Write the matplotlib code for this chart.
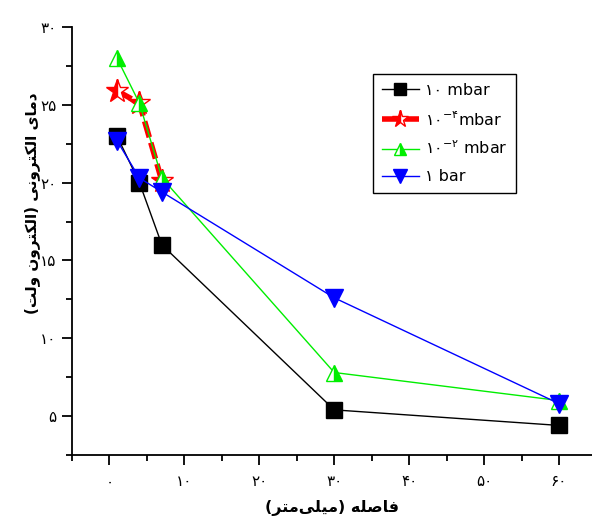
import matplotlib
matplotlib.use("Agg")
import matplotlib.pyplot as plt
from matplotlib.ticker import MultipleLocator, FixedLocator

# ---------------- data ----------------
x_black = [1, 4, 7, 30, 60]
y_black = [23.0, 20.0, 16.0, 5.4, 4.4]

x_red = [1, 4, 7]
y_red = [25.9, 25.1, 20.1]

x_green = [1, 4, 7, 30, 60]
y_green = [28.0, 25.1, 20.3, 7.8, 6.0]

x_blue = [1, 4, 7, 30, 60]
y_blue = [22.7, 20.3, 19.4, 12.6, 5.8]

labels = ['۱۰ mbar', '۱۰$^{-۴}$mbar', '۱۰$^{-۲}$ mbar', '۱ bar']

xticks = [0, 10, 20, 30, 40, 50, 60]
xticklabels = ['۰', '۱۰', '۲۰', '۳۰', '۴۰', '۵۰', '۶۰']
yticks = [5, 10, 15, 20, 25, 30]
yticklabels = ['۵', '۱۰', '۱۵', '۲۰', '۲۵', '۳۰']

xlabel_txt = 'فاصله (میلی\u200cمتر)'
ylabel_txt = 'دمای الکترونی (الکترون ولت)'

# ------------- simple Persian shaping -------------
FORMS = {
    'ا': ('\uFE8D', '\uFE8E', None, None),
    'د': ('\uFEA9', '\uFEAA', None, None),
    'ر': ('\uFEAD', '\uFEAE', None, None),
    'و': ('\uFEED', '\uFEEE', None, None),
    'م': ('\uFEE1', '\uFEE2', '\uFEE3', '\uFEE4'),
    'ل': ('\uFEDD', '\uFEDE', '\uFEDF', '\uFEE0'),
    'ت': ('\uFE95', '\uFE96', '\uFE97', '\uFE98'),
    'ن': ('\uFEE5', '\uFEE6', '\uFEE7', '\uFEE8'),
    'ف': ('\uFED1', '\uFED2', '\uFED3', '\uFED4'),
    'ص': ('\uFEB9', '\uFEBA', '\uFEBB', '\uFEBC'),
    'ه': ('\uFEE9', '\uFEEA', '\uFEEB', '\uFEEC'),
    'ی': ('\uFBFC', '\uFBFD', '\uFBFE', '\uFBFF'),
    'ک': ('\uFB8E', '\uFB8F', '\uFB90', '\uFB91'),
}


def shape(s):
    out = []
    n = len(s)
    for i, c in enumerate(s):
        if c == '\u200c':
            continue
        if c not in FORMS:
            out.append(c)
            continue
        prev = s[i - 1] if i > 0 else None
        nxt = s[i + 1] if i < n - 1 else None
        jp = prev in FORMS and FORMS[prev][2] is not None
        jn = nxt in FORMS and FORMS[c][2] is not None
        iso, fin, ini, med = FORMS[c]
        if jp and jn:
            out.append(med)
        elif jp:
            out.append(fin)
        elif jn:
            out.append(ini)
        else:
            out.append(iso)
    vis = ''.join(reversed(out))
    return vis.translate(str.maketrans('()', ')('))


plt.rcParams['font.family'] = ['DejaVu Sans']
plt.rcParams['mathtext.fontset'] = 'dejavusans'

fig = plt.figure(figsize=(5.92, 5.19), dpi=100)
ax = fig.add_axes([72 / 592, 1 - 455 / 519, 1 - 72 / 592, (455 - 27) / 519])

ax.plot(x_black, y_black, color='black', lw=1, marker='s', ms=11,
        mfc='black', mec='black', label=labels[0], zorder=3)
ax.plot(x_red, y_red, color='red', lw=4, ls=(0, (3, 1)), marker='*', ms=17,
        mfc='red', mec='red', fillstyle='left', markerfacecoloralt='white',
        label=labels[1], zorder=4)
ax.plot(x_green, y_green, color='#00ee00', lw=1, marker='^', ms=12,
        mfc='#00ee00', mec='#00ee00', fillstyle='right',
        markerfacecoloralt='white', label=labels[2], zorder=5)
ax.plot(x_blue, y_blue, color='blue', lw=1, marker='v', ms=13,
        mfc='blue', mec='blue', label=labels[3], zorder=6)

ax.set_xlim(-5, 64.4)
ax.set_ylim(2.5, 30)

for s in ['top', 'right']:
    ax.spines[s].set_visible(False)
for s in ['left', 'bottom']:
    ax.spines[s].set_linewidth(1.3)

ax.xaxis.set_major_locator(FixedLocator(xticks))
ax.set_xticklabels(xticklabels)
ax.yaxis.set_major_locator(FixedLocator(yticks))
ax.set_yticklabels(yticklabels)
ax.xaxis.set_minor_locator(MultipleLocator(5))
ax.yaxis.set_minor_locator(MultipleLocator(2.5))
ax.tick_params(which='major', direction='out', length=7, width=1.3,
               labelsize=11)
ax.tick_params(which='minor', direction='out', length=4, width=1.3)
ax.tick_params(axis='x', which='major', pad=7)
ax.tick_params(axis='y', which='major', pad=4)

ax.set_xlabel(shape(xlabel_txt), fontsize=11.5, fontweight='bold')
ax.xaxis.set_label_coords(0.5, -0.104)
ax.set_ylabel(shape(ylabel_txt), fontsize=11, fontweight='bold')
ax.yaxis.set_label_coords(-0.062, 0.589)

leg = ax.legend(loc='upper left', bbox_to_anchor=(0.579, 0.890),
                fontsize=11.5, frameon=True, fancybox=False, framealpha=1,
                edgecolor='black', handlelength=2.3, borderpad=0.55,
                labelspacing=0.75, handletextpad=0.4, borderaxespad=0,
                markerscale=0.75)
leg.get_frame().set_linewidth(1.0)

fig.savefig('out.png', dpi=100)
